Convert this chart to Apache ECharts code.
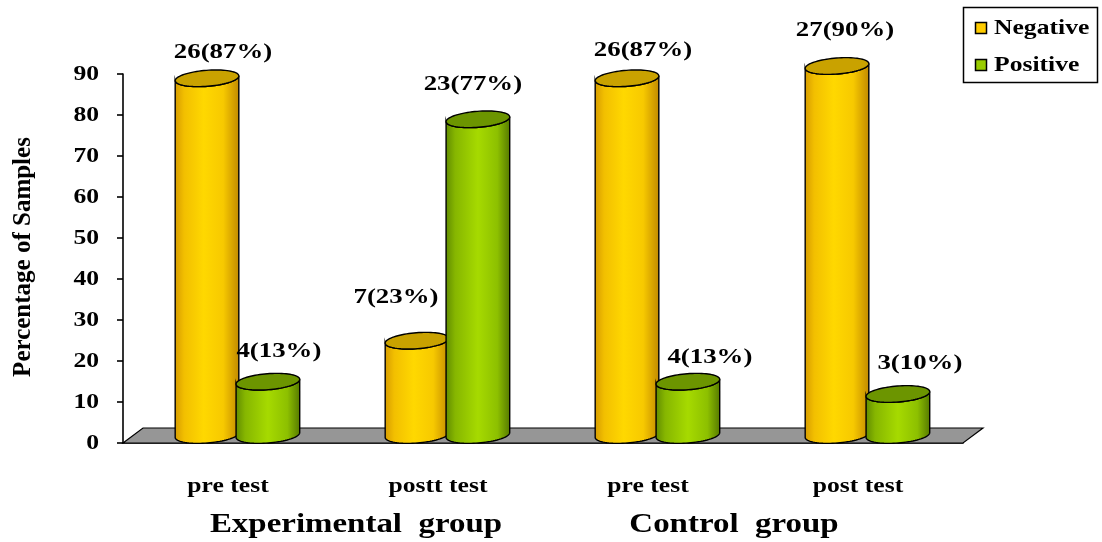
<!DOCTYPE html>
<html>
<head>
<meta charset="utf-8">
<script src="https://cdn.jsdelivr.net/npm/echarts@6/dist/echarts.min.js"></script>
<style>
  html, body { margin: 0; padding: 0; background: #fff; }
  #chart { width: 1102px; height: 542px; }
</style>
</head>
<body>
<div id="chart"></div>
<script>
// Samples per test phase, split into negative / positive results
const categories = ['pre test', 'postt test', 'pre test', 'post test'];
const groupNames = ['Experimental  group', 'Control  group'];
const negativeCount = [26, 7, 26, 27];
const negativePct = [87, 23, 87, 90];
const positiveCount = [4, 23, 4, 3];
const positivePct = [13, 77, 13, 10];
const yTicks = [0, 10, 20, 30, 40, 50, 60, 70, 80, 90];

// Layout / styling
const FONT = 'Liberation Serif';
const STRETCH = 1.22;          // horizontally widened lettering
const DEPTH = [20, -15];       // 3D floor depth offset
const ELLIPSE_RY = 8;
const TILT = -4.5 * Math.PI / 180;
// data-label nudges (dx, dy from the bar's value point)
const labelNudge = {
  negative: [[16, -34], [-21, -51], [16, -36], [8, -44]],
  positive: [[11, -38], [-5, -43], [22, -32], [22, -39]]
};
const palette = {
  negative: {
    body: [[0, '#d59a00'], [0.15, '#f2bf00'], [0.45, '#ffd800'], [0.75, '#f7c900'], [1, '#c08800']],
    top: '#c9a200', legend: '#ffcc00'
  },
  positive: {
    body: [[0, '#5f8a00'], [0.15, '#86b600'], [0.5, '#a6da00'], [0.8, '#8dc000'], [1, '#547800']],
    top: '#6c9500', legend: '#99cc00'
  }
};

function ellipsePoint(cx, cy, rx, ry, t) {
  return [
    cx + rx * Math.cos(t) * Math.cos(TILT) - ry * Math.sin(t) * Math.sin(TILT),
    cy + rx * Math.cos(t) * Math.sin(TILT) + ry * Math.sin(t) * Math.cos(TILT)
  ];
}

function cylinderRenderer(shift, pal) {
  return function (params, api) {
    const i = api.value(0), v = api.value(1);
    const band = api.size([1, 0])[0];
    const top = api.coord([i, v]);
    const base = api.coord([i, 0]);
    const cx = top[0] + shift * band;
    const rx = 0.152 * band, ry = ELLIPSE_RY;
    const yTop = top[1] - ry, yBot = base[1] - ry;
    const N = 40;
    const body = [];
    for (let k = 0; k <= N; k++) body.push(ellipsePoint(cx, yBot, rx, ry, Math.PI - k * Math.PI / N));
    for (let k = 0; k <= N; k++) body.push(ellipsePoint(cx, yTop, rx, ry, k * Math.PI / N));
    const cap = [];
    for (let k = 0; k < 2 * N; k++) cap.push(ellipsePoint(cx, yTop, rx, ry, k * Math.PI / N));
    return {
      type: 'group',
      children: [
        {
          type: 'polygon', shape: { points: body },
          style: {
            fill: { type: 'linear', x: 0, y: 0, x2: 1, y2: 0, colorStops: pal.body.map(s => ({ offset: s[0], color: s[1] })) },
            stroke: '#000', lineWidth: 1.4
          }
        },
        {
          type: 'polygon', shape: { points: cap },
          style: { fill: pal.top, stroke: '#000', lineWidth: 1.4 }
        }
      ]
    };
  };
}

function labelRenderer(shift, counts, nudges) {
  return function (params, api) {
    const i = api.value(0), v = api.value(1);
    const band = api.size([1, 0])[0];
    const p = api.coord([i, v]);
    const n = nudges[params.dataIndex];
    return {
      type: 'text',
      x: p[0] + shift * band + n[0], y: p[1] + n[1],
      scaleX: STRETCH,
      style: {
        text: counts[params.dataIndex] + '(' + v + '%)',
        fontFamily: FONT, fontWeight: 'bold', fontSize: 22,
        fill: '#000', align: 'center', verticalAlign: 'middle'
      }
    };
  };
}

const NEG_SHIFT = -0.1, POS_SHIFT = 0.19;

const chart = echarts.init(document.getElementById('chart'), null, { renderer: 'canvas' });
chart.setOption({
  animation: false,
  backgroundColor: '#fff',
  grid: { left: 123, right: 139, top: 74, bottom: 99 },
  xAxis: {
    type: 'category', data: categories,
    axisLine: { lineStyle: { color: '#000', width: 1.6 } },
    axisTick: { length: 9, lineStyle: { color: '#000', width: 1.6 } },
    axisLabel: { show: false }
  },
  yAxis: {
    type: 'value', min: 0, max: 90, interval: 10,
    axisLine: { show: true, lineStyle: { color: '#000', width: 1.6 } },
    axisTick: { show: true, length: 6, lineStyle: { color: '#000', width: 1.6 } },
    axisLabel: { show: false },
    splitLine: { show: false }
  },
  series: [
    {
      // floor plane
      type: 'custom', z: 1, silent: true,
      data: [[0, 0]],
      renderItem: function (params, api) {
        const band = api.size([1, 0])[0];
        const a = api.coord([0, 0]);
        const b = api.coord([categories.length - 1, 0]);
        const l = a[0] - band / 2, r = b[0] + band / 2, y = a[1];
        return {
          type: 'polygon',
          shape: { points: [[l, y], [l + DEPTH[0], y + DEPTH[1]], [r + DEPTH[0], y + DEPTH[1]], [r, y]] },
          style: { fill: '#969696', stroke: '#000', lineWidth: 1.2 }
        };
      }
    },
    {
      name: 'Negative', type: 'custom', z: 2,
      data: negativePct.map((v, i) => [i, v]),
      renderItem: cylinderRenderer(NEG_SHIFT, palette.negative)
    },
    {
      name: 'Positive', type: 'custom', z: 3,
      data: positivePct.map((v, i) => [i, v]),
      renderItem: cylinderRenderer(POS_SHIFT, palette.positive)
    },
    {
      type: 'custom', z: 4, silent: true,
      data: negativePct.map((v, i) => [i, v]),
      renderItem: labelRenderer(NEG_SHIFT, negativeCount, labelNudge.negative)
    },
    {
      type: 'custom', z: 4, silent: true,
      data: positivePct.map((v, i) => [i, v]),
      renderItem: labelRenderer(POS_SHIFT, positiveCount, labelNudge.positive)
    },
    {
      // value-axis tick labels
      type: 'custom', z: 4, silent: true,
      data: yTicks.map(v => [0, v]),
      renderItem: function (params, api) {
        const band = api.size([1, 0])[0];
        const p = api.coord([0, api.value(1)]);
        return {
          type: 'text', x: p[0] - band / 2 - 24, y: p[1] + 1, scaleX: STRETCH,
          style: {
            text: String(api.value(1)), fontFamily: FONT, fontWeight: 'bold', fontSize: 21,
            fill: '#000', align: 'right', verticalAlign: 'middle'
          }
        };
      }
    },
    {
      // category labels
      type: 'custom', z: 4, silent: true,
      data: categories.map((c, i) => [i, 0]),
      renderItem: function (params, api) {
        const p = api.coord([api.value(0), 0]);
        return {
          type: 'text', x: p[0], y: p[1] + 44, scaleX: STRETCH,
          style: {
            text: categories[params.dataIndex], fontFamily: FONT, fontWeight: 'bold', fontSize: 21,
            fill: '#000', align: 'center', verticalAlign: 'middle'
          }
        };
      }
    }
  ],
  graphic: [
    {
      type: 'text', x: 24, y: 257, rotation: Math.PI / 2,
      style: {
        text: 'Percentage of Samples', fontFamily: FONT, fontWeight: 'bold', fontSize: 25,
        fill: '#000', align: 'center', verticalAlign: 'middle'
      }
    },
    {
      type: 'text', x: 356, y: 525, scaleX: STRETCH,
      style: { text: groupNames[0], fontFamily: FONT, fontWeight: 'bold', fontSize: 27, fill: '#000', align: 'center', verticalAlign: 'middle' }
    },
    {
      type: 'text', x: 734, y: 525, scaleX: STRETCH,
      style: { text: groupNames[1], fontFamily: FONT, fontWeight: 'bold', fontSize: 27, fill: '#000', align: 'center', verticalAlign: 'middle' }
    },
    // legend
    { type: 'rect', shape: { x: 963.5, y: 7.5, width: 134, height: 75 }, style: { fill: '#fff', stroke: '#000', lineWidth: 1.5 } },
    { type: 'rect', shape: { x: 975.5, y: 22.5, width: 11, height: 11 }, style: { fill: palette.negative.legend, stroke: '#000', lineWidth: 1.5 } },
    { type: 'rect', shape: { x: 975.5, y: 59.5, width: 11, height: 11 }, style: { fill: palette.positive.legend, stroke: '#000', lineWidth: 1.5 } },
    {
      type: 'text', x: 994, y: 29, scaleX: STRETCH,
      style: { text: 'Negative', fontFamily: FONT, fontWeight: 'bold', fontSize: 21, fill: '#000', align: 'left', verticalAlign: 'middle' }
    },
    {
      type: 'text', x: 994, y: 66, scaleX: STRETCH,
      style: { text: 'Positive', fontFamily: FONT, fontWeight: 'bold', fontSize: 21, fill: '#000', align: 'left', verticalAlign: 'middle' }
    }
  ]
});
</script>
</body>
</html>
